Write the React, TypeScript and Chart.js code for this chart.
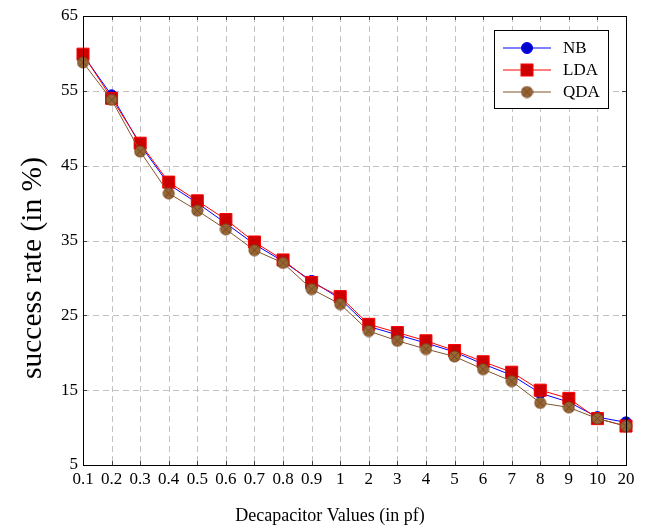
import React, { useEffect, useRef } from "react";
import { Chart, registerables } from "chart.js";

Chart.register(...registerables);

const categories = ["0.1","0.2","0.3","0.4","0.5","0.6","0.7","0.8","0.9","1","2","3","4","5","6","7","8","9","10","20"];
const nbValues = [59.8, 54.4, 47.8, 42.5, 40.0, 37.3, 34.5, 32.2, 29.6, 27.2, 23.5, 22.4, 21.3, 20.1, 18.5, 17.0, 14.6, 13.4, 11.4, 10.7];
const ldaValues = [59.9, 54.0, 48.0, 42.8, 40.3, 37.8, 34.8, 32.4, 29.4, 27.5, 23.8, 22.7, 21.6, 20.3, 18.8, 17.4, 15.0, 13.9, 11.2, 10.2];
const qdaValues = [58.8, 53.8, 46.9, 41.3, 39.0, 36.5, 33.7, 32.0, 28.5, 26.5, 22.9, 21.6, 20.5, 19.5, 17.8, 16.2, 13.3, 12.7, 11.2, 10.2];
const yTicks = [5, 15, 25, 35, 45, 55, 65];
const xTitle = "Decapacitor Values (in pf)";
const yTitle = "success rate (in %)";

const FONT = "'Liberation Serif', 'DejaVu Serif', serif";

function makeQdaMarker(): HTMLCanvasElement {
  const c = document.createElement("canvas");
  c.width = 13;
  c.height = 13;
  const g = c.getContext("2d")!;
  const r = 5.6;
  g.beginPath();
  g.arc(6.5, 6.5, r, 0, Math.PI * 2);
  g.fillStyle = "#996633";
  g.fill();
  g.strokeStyle = "#6b4422";
  g.lineWidth = 0.8;
  g.stroke();
  const d = r * 0.7071;
  g.beginPath();
  g.moveTo(6.5 - d, 6.5 - d);
  g.lineTo(6.5 + d, 6.5 + d);
  g.moveTo(6.5 + d, 6.5 - d);
  g.lineTo(6.5 - d, 6.5 + d);
  g.strokeStyle = "#5e3c1e";
  g.lineWidth = 0.7;
  g.stroke();
  return c;
}

export default function App() {
  const ref = useRef<HTMLCanvasElement>(null);

  useEffect(() => {
    document.body.style.margin = "0";
    const qdaMarker = makeQdaMarker();

    const gridPlugin = {
      id: "dashgrid",
      beforeDatasetsDraw(chart: any) {
        const { ctx, chartArea } = chart;
        const { left, right, top, bottom } = chartArea;
        const xs = chart.scales.x;
        const ys = chart.scales.y;
        ctx.save();
        ctx.strokeStyle = "#c2c2c2";
        ctx.lineWidth = 1;
        ctx.setLineDash([6, 4]);
        for (let i = 1; i < categories.length - 1; i++) {
          const x = Math.round(xs.getPixelForValue(i)) + 0.5;
          ctx.beginPath();
          ctx.moveTo(x, top);
          ctx.lineTo(x, bottom);
          ctx.stroke();
        }
        for (let j = 1; j < yTicks.length - 1; j++) {
          const y = Math.round(ys.getPixelForValue(yTicks[j])) + 0.5;
          ctx.beginPath();
          ctx.moveTo(left, y);
          ctx.lineTo(right, y);
          ctx.stroke();
        }
        ctx.restore();
      },
    };

    const framePlugin = {
      id: "frame",
      afterDatasetsDraw(chart: any) {
        const { ctx, chartArea } = chart;
        const { left, right, top, bottom } = chartArea;
        const xs = chart.scales.x;
        const ys = chart.scales.y;
        ctx.save();
        ctx.strokeStyle = "#444";
        ctx.lineWidth = 1;
        ctx.beginPath();
        for (let i = 0; i < categories.length; i++) {
          const x = Math.round(xs.getPixelForValue(i)) + 0.5;
          ctx.moveTo(x, bottom);
          ctx.lineTo(x, bottom - 4);
          ctx.moveTo(x, top);
          ctx.lineTo(x, top + 4);
        }
        for (const v of yTicks) {
          const y = Math.round(ys.getPixelForValue(v)) + 0.5;
          ctx.moveTo(left, y);
          ctx.lineTo(left + 4, y);
          ctx.moveTo(right, y);
          ctx.lineTo(right - 4, y);
        }
        ctx.stroke();
        ctx.strokeStyle = "#000";
        ctx.strokeRect(Math.round(left) + 0.5, Math.round(top) + 0.5, Math.round(right - left), Math.round(bottom - top));

        // axis titles
        ctx.fillStyle = "#000";
        ctx.textAlign = "center";
        ctx.textBaseline = "middle";
        ctx.font = `18px ${FONT}`;
        ctx.fillText(xTitle, 330, 516);
        ctx.save();
        ctx.translate(33, 268);
        ctx.rotate(-Math.PI / 2);
        ctx.font = `29.5px ${FONT}`;
        ctx.fillText(yTitle, 0, 0);
        ctx.restore();

        // legend
        const lx = 494.5, ly = 30.5, lw = 114, lh = 78;
        ctx.fillStyle = "#fff";
        ctx.fillRect(lx, ly, lw, lh);
        ctx.strokeStyle = "#000";
        ctx.strokeRect(lx, ly, lw, lh);
        const entries = [
          { label: "NB", color: "#0000ff", kind: "circle" },
          { label: "LDA", color: "#ff0000", kind: "square" },
          { label: "QDA", color: "#80552b", kind: "qda" },
        ];
        ctx.font = `17px ${FONT}`;
        ctx.textBaseline = "middle";
        ctx.textAlign = "left";
        entries.forEach((e, i) => {
          const cy = 48 + i * 22;
          ctx.beginPath();
          ctx.moveTo(503, cy);
          ctx.lineTo(551, cy);
          ctx.strokeStyle = e.color;
          ctx.lineWidth = 1;
          ctx.stroke();
          const mx = 527;
          if (e.kind === "circle") {
            ctx.beginPath();
            ctx.arc(mx, cy, 5.5, 0, Math.PI * 2);
            ctx.fillStyle = "#0000cc";
            ctx.fill();
            ctx.strokeStyle = "#0000ff";
            ctx.stroke();
          } else if (e.kind === "square") {
            ctx.fillStyle = "#cc0000";
            ctx.fillRect(mx - 6, cy - 6, 12, 12);
            ctx.strokeStyle = "#ff0000";
            ctx.strokeRect(mx - 6, cy - 6, 12, 12);
          } else {
            ctx.drawImage(qdaMarker, mx - 6.5, cy - 6.5);
          }
          ctx.fillStyle = "#000";
          ctx.fillText(e.label, 563, cy + 1);
        });
        ctx.restore();
      },
    };

    const chart = new Chart(ref.current!, {
      type: "line",
      data: {
        labels: categories,
        datasets: [
          {
            label: "NB",
            data: nbValues,
            order: 2,
            borderColor: "#0000ff",
            backgroundColor: "#0000cc",
            pointBorderColor: "#0000ff",
            borderWidth: 1,
            pointStyle: "circle",
            pointRadius: 5.5,
            pointBorderWidth: 1,
          },
          {
            label: "LDA",
            data: ldaValues,
            order: 1,
            borderColor: "#ff0000",
            backgroundColor: "#cc0000",
            pointBorderColor: "#ff0000",
            borderWidth: 1,
            pointStyle: "rect",
            pointRadius: 8.5,
            pointBorderWidth: 1,
          },
          {
            label: "QDA",
            data: qdaValues,
            order: 0,
            borderColor: "#80552b",
            backgroundColor: "#996633",
            borderWidth: 1,
            pointStyle: qdaMarker as any,
            pointRadius: 6,
          },
        ],
      },
      options: {
        animation: false,
        responsive: false,
        maintainAspectRatio: false,
        layout: { padding: { top: 16, right: 22, left: 0, bottom: 0 } },
        plugins: {
          legend: { display: false },
          tooltip: { enabled: false },
        },
        scales: {
          x: {
            type: "category",
            offset: false,
            grid: { display: false, drawTicks: false },
            border: { display: false },
            ticks: { color: "#000", font: { family: FONT, size: 17 }, padding: 4, maxRotation: 0, autoSkip: false },
            afterFit(scale: any) {
              scale.height = 63;
            },
          },
          y: {
            min: 5,
            max: 65,
            afterBuildTicks(scale: any) {
              scale.ticks = yTicks.map((v) => ({ value: v }));
            },
            grid: { display: false, drawTicks: false },
            border: { display: false },
            ticks: { color: "#000", font: { family: FONT, size: 17 }, padding: 5 },
            afterFit(scale: any) {
              scale.width = 83;
            },
          },
        },
      },
      plugins: [gridPlugin, framePlugin],
    });
    return () => chart.destroy();
  }, []);

  return (
    <div style={{ width: 648, height: 528 }}>
      <canvas ref={ref} width={648} height={528} style={{ width: 648, height: 528, display: "block" }} />
    </div>
  );
}
